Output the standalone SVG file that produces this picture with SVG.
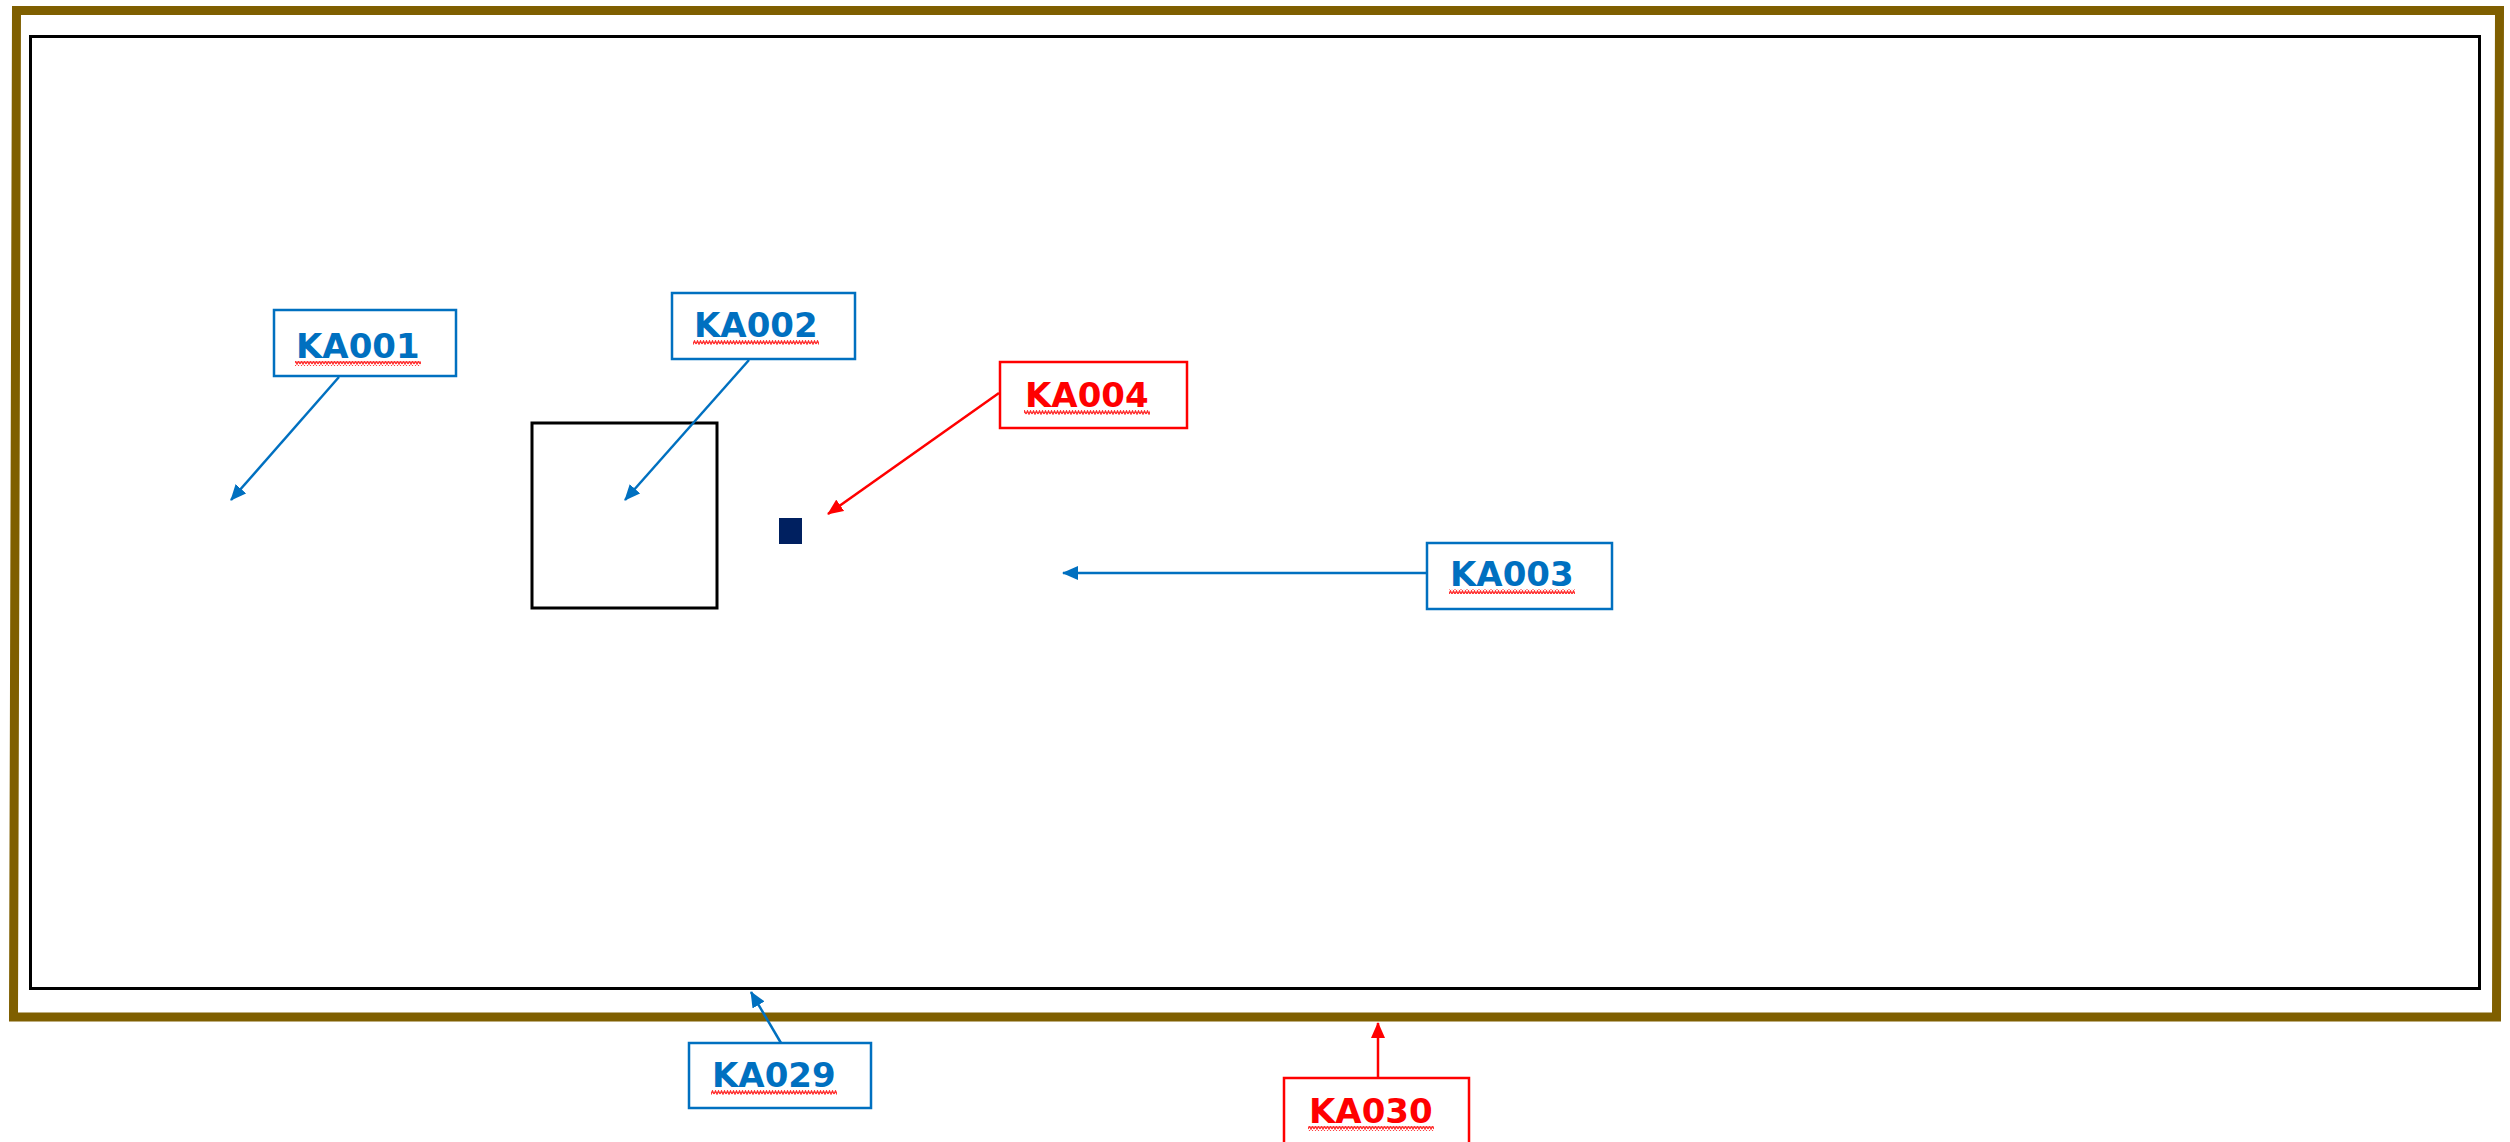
<svg xmlns="http://www.w3.org/2000/svg" width="2510" height="1142" viewBox="0 0 2510 1142">
  <style>
    .lbl { fill: #ffffff; stroke-width: 2.5; }
    .blue { stroke: #0070C0; }
    .red { stroke: #FF0000; }
    .t { font-family: "DejaVu Sans", Verdana, sans-serif; font-weight: bold; font-size: 34px; }
    .tb { fill: #0070C0; }
    .tr { fill: #FF0000; }
    .con { fill: none; stroke-width: 2.5; }
    .sq { fill: url(#squiggle); }
  </style>
  <defs>
    <pattern id="squiggle" patternUnits="userSpaceOnUse" width="6" height="5">
      <path d="M0,4 L1.5,1 L3,4 L4.5,1 L6,4" fill="none" stroke="#FF3030" stroke-width="1.4"/>
    </pattern>
    <marker id="ab" markerUnits="userSpaceOnUse" markerWidth="16" markerHeight="14" refX="15" refY="7" orient="auto">
      <path d="M0,0 L16,7 L0,14 Z" fill="#0070C0"/>
    </marker>
    <marker id="ar" markerUnits="userSpaceOnUse" markerWidth="16" markerHeight="14" refX="15" refY="7" orient="auto">
      <path d="M0,0 L16,7 L0,14 Z" fill="#FF0000"/>
    </marker>
  </defs>
  <rect width="2510" height="1142" fill="#ffffff"/>

  <g id="outer-frame">
    <polygon points="16.5,10.5 2499.5,10.5 2496.5,1017 13.5,1017" fill="none" stroke="#7F5F00" stroke-width="9"/>
  </g>
  <g id="inner-frame">
    <rect x="30.5" y="36.5" width="2449" height="952" fill="none" stroke="#000000" stroke-width="3"/>
  </g>
  <g id="square">
    <rect x="532" y="423" width="185" height="185" fill="none" stroke="#000000" stroke-width="3"/>
  </g>
  <g id="small-square">
    <rect x="779" y="518" width="23" height="26" fill="#002060"/>
  </g>

  <g id="connectors">
    <line class="con blue" x1="339" y1="377" x2="231" y2="500" marker-end="url(#ab)"/>
    <line class="con blue" x1="749" y1="360" x2="625" y2="500" marker-end="url(#ab)"/>
    <line class="con red" x1="999" y1="393" x2="828" y2="514" marker-end="url(#ar)"/>
    <line class="con blue" x1="1427" y1="573" x2="1063" y2="573" marker-end="url(#ab)"/>
    <line class="con blue" x1="781" y1="1043" x2="751" y2="992" marker-end="url(#ab)"/>
    <line class="con red" x1="1378" y1="1077" x2="1378" y2="1023" marker-end="url(#ar)"/>
  </g>

  <g id="KA001">
    <rect class="lbl blue" x="274" y="310" width="182" height="66"/>
    <text class="t tb" x="296" y="358">KA001</text>
    <rect class="sq" x="295" y="361" width="126" height="5"/>
  </g>
  <g id="KA002">
    <rect class="lbl blue" x="672" y="293" width="183" height="66"/>
    <text class="t tb" x="694" y="337">KA002</text>
    <rect class="sq" x="693" y="340" width="126" height="5"/>
  </g>
  <g id="KA004">
    <rect class="lbl red" x="1000" y="362" width="187" height="66"/>
    <text class="t tr" x="1025" y="407">KA004</text>
    <rect class="sq" x="1024" y="410" width="126" height="5"/>
  </g>
  <g id="KA003">
    <rect class="lbl blue" x="1427" y="543" width="185" height="66"/>
    <text class="t tb" x="1450" y="586">KA003</text>
    <rect class="sq" x="1449" y="589" width="126" height="5"/>
  </g>
  <g id="KA029">
    <rect class="lbl blue" x="689" y="1043" width="182" height="65"/>
    <text class="t tb" x="712" y="1087">KA029</text>
    <rect class="sq" x="711" y="1090" width="126" height="5"/>
  </g>
  <g id="KA030">
    <rect class="lbl red" x="1284" y="1078" width="185" height="70"/>
    <text class="t tr" x="1309" y="1123">KA030</text>
    <rect class="sq" x="1308" y="1126" width="126" height="5"/>
  </g>
</svg>
